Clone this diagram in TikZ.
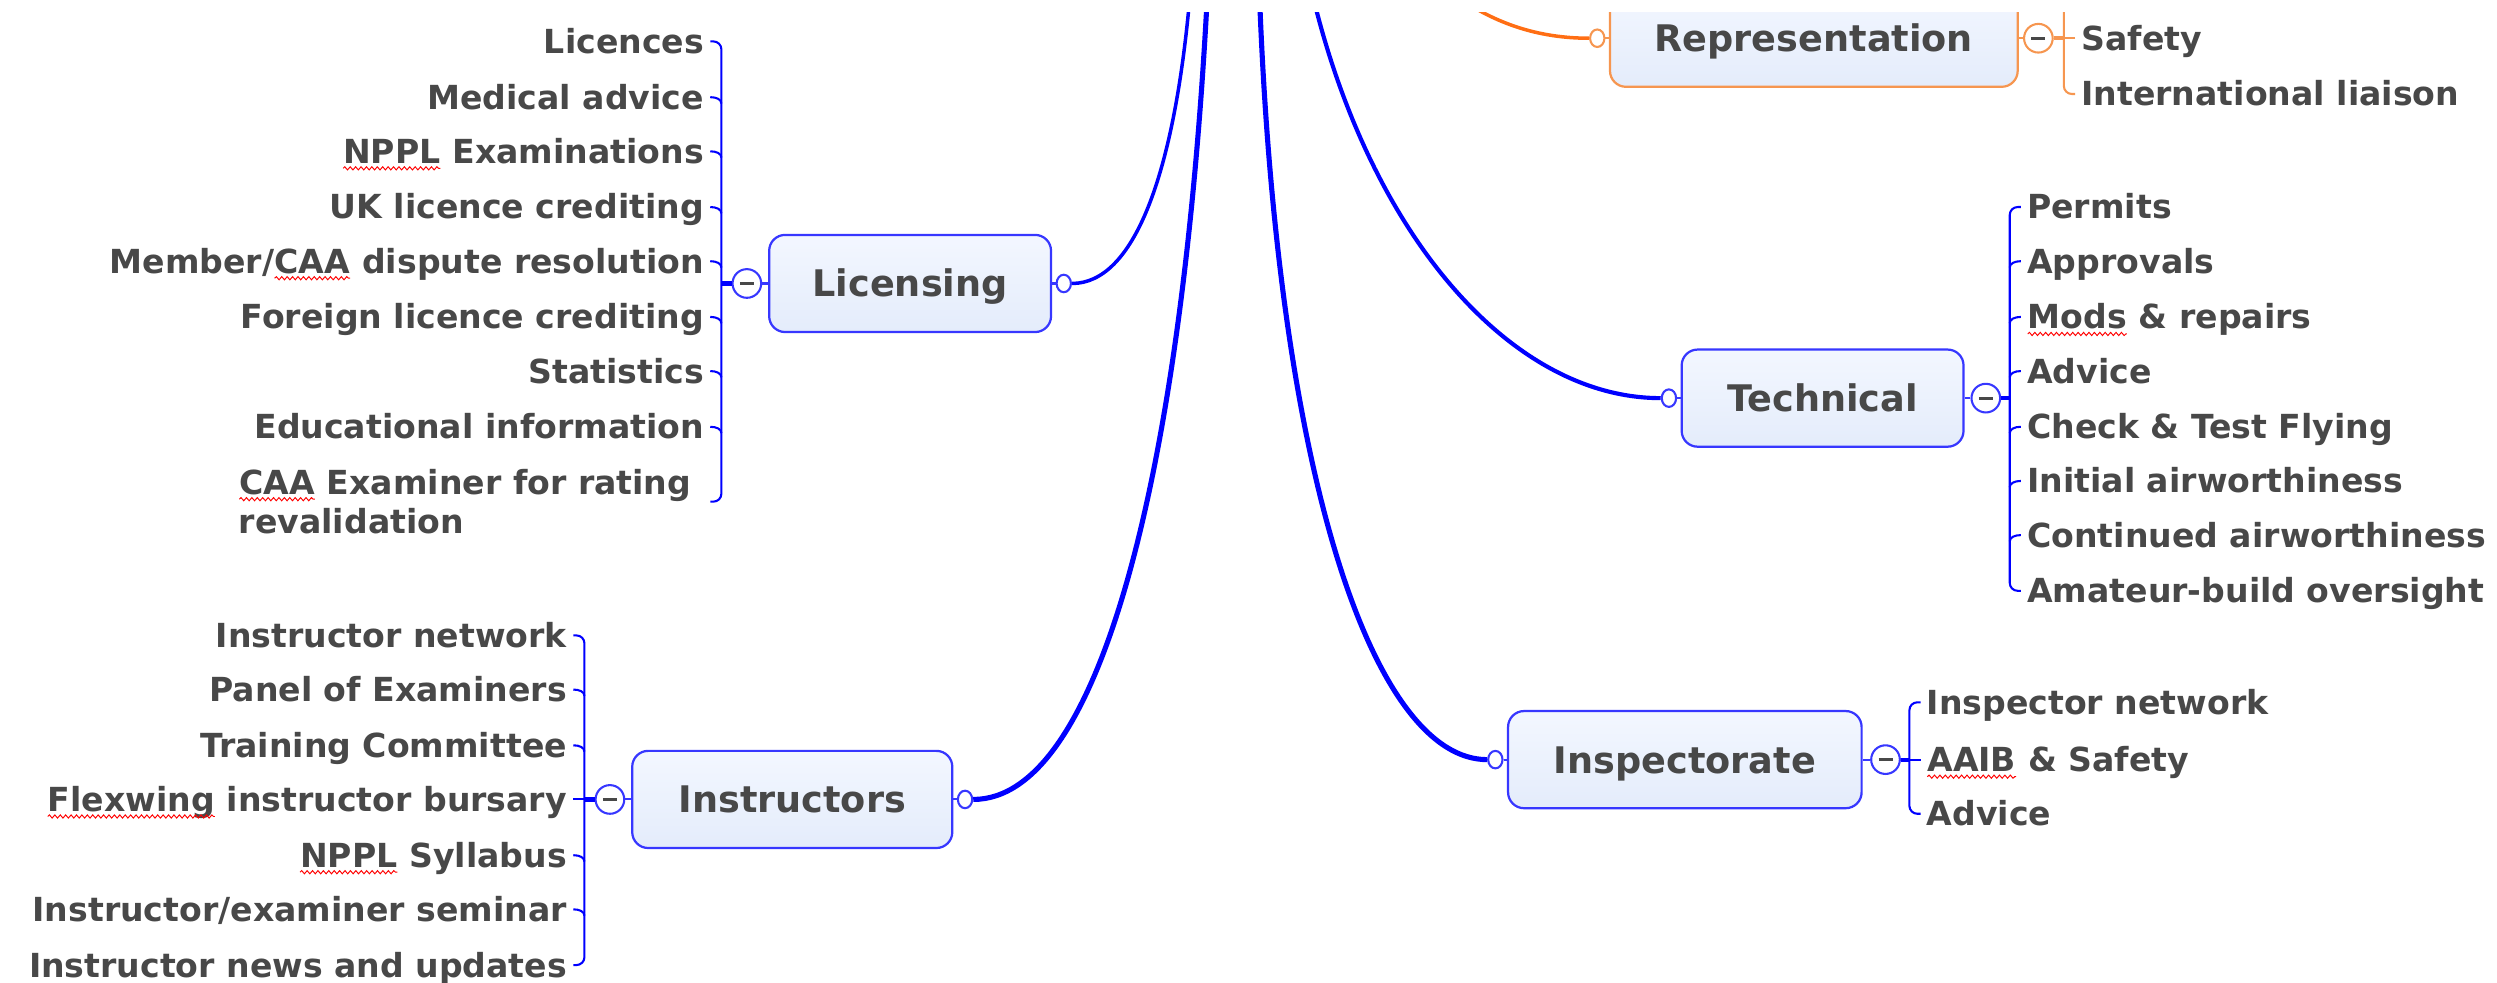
\documentclass[tikz,border=0pt]{standalone}
\usepackage{fontspec}
\setmainfont{DejaVu Sans}
\usetikzlibrary{shapes.geometric,decorations.pathmorphing}

\definecolor{mmblue}{RGB}{0,0,255}
\definecolor{boxblue}{RGB}{55,55,255}
\definecolor{mmorange}{RGB}{255,110,20}
\definecolor{boxorange}{RGB}{246,150,80}
\definecolor{mmtext}{RGB}{72,72,72}
\definecolor{filltop}{RGB}{243,247,255}
\definecolor{fillbot}{RGB}{228,236,251}

\newdimen\U \U=0.5pt
\newcommand\leaffont{\fontsize{10.4pt}{12.5pt}\selectfont\bfseries}
\newcommand\topicfont{\fontsize{11.5pt}{13.5pt}\selectfont\bfseries}

% red wavy spell-check underline under a word
\newcommand\spellmark[1]{\tikz[baseline=(sw.base)]{\node[inner sep=0pt,outer sep=0pt](sw){#1};%
  \draw[red,line width=0.3pt,decorate,decoration={snake,amplitude=0.5pt,segment length=1.7pt}]
    ([yshift=-1.6pt]sw.base west)--([yshift=-1.6pt]sw.base east);}}

% leaf to the left of its bracket: style, name, bracket x, row y, text
\newcommand\leftleaf[5]{%
  \node[leaf, anchor=base east] (#2) at (#3-11,#4+7.5) {#5};
  \draw[#1] ([shift={(4,-7.5)}]#2.base east) .. controls +(4,0) and +(0,-2.5) .. +(7,4);}
% leaf to the right of its bracket
\newcommand\rightleaf[5]{%
  \node[leaf, anchor=base west] (#2) at (#3+11,#4+7.5) {#5};
  \draw[#1] ([shift={(-4,-7.5)}]#2.base west) .. controls +(-4,0) and +(0,-2.5) .. +(-7,4);}
% leaf level with its collapse button: straight stub
\newcommand\leftleafflat[5]{%
  \node[leaf, anchor=base east] (#2) at (#3-11,#4+7.5) {#5};
  \draw[#1] ([shift={(4,-7.5)}]#2.base east) -- +(7,0);}
\newcommand\rightleafflat[5]{%
  \node[leaf, anchor=base west] (#2) at (#3+11,#4+7.5) {#5};
  \draw[#1] ([shift={(-4,-7.5)}]#2.base west) -- +(-7,0);}
% first and last leaves: the bracket's own curl reaches them
\newcommand\leftleafend[4]{%
  \node[leaf, anchor=base east] (#1) at (#2-11,#3+7.5) {#4};}
\newcommand\rightleafend[4]{%
  \node[leaf, anchor=base west] (#1) at (#2+11,#3+7.5) {#4};}

\tikzset{
  leaf/.style={inner sep=0pt, outer sep=0pt, text=mmtext, font=\leaffont},
  topic/.style={draw=boxblue, line width=1.4\U, rounded corners=10\U,
    top color=filltop, bottom color=fillbot, text=mmtext, font=\topicfont,
    minimum height=61\U, inner sep=0pt, text height=8.4pt, text depth=0pt},
  otopic/.style={topic, draw=boxorange},
  knob/.style={circle, draw=boxblue, fill=white, line width=1.3\U,
    minimum size=18\U, inner sep=0pt,
    path picture={\draw[mmtext, line width=1pt]
      ([xshift=-2.2pt]path picture bounding box.center) --
      ([xshift=2.2pt]path picture bounding box.center);}},
  oknob/.style={knob, draw=boxorange},
  port/.style={ellipse, draw=boxblue, fill=white, line width=1.3\U,
    minimum width=9\U, minimum height=11\U, inner sep=0pt},
  oport/.style={port, draw=boxorange},
  stub/.style={draw=boxblue, line width=1.3\U},
  ostub/.style={draw=boxorange, line width=1.3\U},
  bracket/.style={draw=mmblue, line width=1.3\U},
  obracket/.style={draw=boxorange, line width=1.3\U},
  joint/.style={draw=mmblue, line width=2.6\U},
  ojoint/.style={draw=boxorange, line width=2.2\U},
  trunk/.style={draw=mmblue},
}

\begin{document}
\begin{tikzpicture}[x=0.5pt,y=-0.5pt]
\useasboundingbox (0,0) rectangle (1568,617);
\begin{scope}
\clip (0,8) rectangle (1568,617);

% ---------- main topics ----------
\node[topic, minimum width=177\U] (lic) at (571.5,178) {Licensing};
\node[port] (licP) at (668,178) {};
\node[knob] (licK) at (469,178) {};

\node[topic, minimum width=201\U] (ins) at (497.5,502) {Instructors};
\node[port] (insP) at (606,502) {};
\node[knob] (insK) at (383,502) {};

\node[topic, minimum width=177\U] (tec) at (1144.5,250) {Technical};
\node[port] (tecP) at (1048,250) {};
\node[knob] (tecK) at (1247,250) {};

\node[topic, minimum width=222\U] (isp) at (1058,477) {Inspectorate};
\node[port] (ispP) at (939,477) {};
\node[knob] (ispK) at (1184,477) {};

\node[otopic, minimum width=256\U] (rep) at (1139,24) {Representation};
\node[oport] (repP) at (1003,24) {};
\node[oknob] (repK) at (1280,24) {};

\foreach \t in {lic,ins} {
  \draw[stub] (\t.east) -- (\t P.west);
  \draw[stub] (\t K.east) -- (\t.west);
}
\foreach \t in {tec,isp} {
  \draw[stub] (\t.west) -- (\t P.east);
  \draw[stub] (\t K.west) -- (\t.east);
}
\draw[ostub] (rep.west) -- (repP.east);
\draw[ostub] (repK.west) -- (rep.east);

% ---------- branches from the central topic ----------
\coordinate (hubA) at (747,0);
\coordinate (hubB) at (758,0);
\coordinate (hubC) at (791,0);
\coordinate (hubD) at (825,0);
\coordinate (hubR) at (918,0);
\draw[trunk, line width=2.2\U] (hubA) .. controls (737,110) and (712,178) .. (licP.east);
\draw[trunk, line width=3.2\U] (hubB) .. controls (742,300) and (690,502) .. (insP.east);
\draw[trunk, line width=3.2\U] (hubC) .. controls (803,310) and (865,477) .. (ispP.west);
\draw[trunk, line width=2.6\U] (hubD) .. controls (862,150) and (950,250) .. (tecP.west);
\draw[draw=mmorange, line width=2.2\U] (hubR) .. controls (945,18) and (972,24) .. (repP.west);

% ---------- Licensing subtopics ----------
\coordinate (licJ) at (453,178);
\draw[joint] (licK.west) -- (licJ);
\draw[bracket, rounded corners=5\U] (446,26) -- (453,26) -- (453,315) -- (446,315);
\leftleafend{lic1}{453}{26}{Licences}
\leftleaf{bracket}{lic2}{453}{61}{Medical advice}
\leftleaf{bracket}{lic3}{453}{95}{\spellmark{NPPL} Examinations}
\leftleaf{bracket}{lic4}{453}{130}{UK licence crediting}
\leftleaf{bracket}{lic5}{453}{164}{Member/\spellmark{CAA} dispute resolution}
\leftleaf{bracket}{lic6}{453}{199}{Foreign licence crediting}
\leftleaf{bracket}{lic7}{453}{233}{Statistics}
\leftleaf{bracket}{lic8}{453}{268}{Educational information}
\node[leaf, align=left, anchor=west] (lic9) at (150,315)
  {\spellmark{CAA} Examiner for rating\\revalidation};

% ---------- Instructors subtopics ----------
\coordinate (insJ) at (367,502);
\draw[joint] (insK.west) -- (insJ);
\draw[bracket, rounded corners=5\U] (360,399) -- (367,399) -- (367,606) -- (360,606);
\leftleafend{ins1}{367}{399}{Instructor network}
\leftleaf{bracket}{ins2}{367}{433}{Panel of Examiners}
\leftleaf{bracket}{ins3}{367}{468}{Training Committee}
\leftleafflat{bracket}{ins4}{367}{502}{\spellmark{Flexwing} instructor bursary}
\leftleaf{bracket}{ins5}{367}{537}{\spellmark{NPPL} Syllabus}
\leftleaf{bracket}{ins6}{367}{571}{Instructor/examiner seminar}
\leftleafend{ins7}{367}{606}{Instructor news and updates}

% ---------- Technical subtopics ----------
\coordinate (tecJ) at (1262,250);
\draw[joint] (tecK.east) -- (tecJ);
\draw[bracket, rounded corners=5\U] (1269,130) -- (1262,130) -- (1262,371) -- (1269,371);
\rightleafend{tec1}{1262}{130}{Permits}
\rightleaf{bracket}{tec2}{1262}{164}{Approvals}
\rightleaf{bracket}{tec3}{1262}{199}{\spellmark{Mods} \& repairs}
\rightleaf{bracket}{tec4}{1262}{233}{Advice}
\rightleaf{bracket}{tec5}{1262}{268}{Check \& Test Flying}
\rightleaf{bracket}{tec6}{1262}{302}{Initial airworthiness}
\rightleaf{bracket}{tec7}{1262}{336}{Continued airworthiness}
\rightleafend{tec8}{1262}{371}{Amateur-build oversight}

% ---------- Inspectorate subtopics ----------
\coordinate (ispJ) at (1199,477);
\draw[joint] (ispK.east) -- (ispJ);
\draw[bracket, rounded corners=5\U] (1206,441) -- (1199,441) -- (1199,511) -- (1206,511);
\rightleafend{isp1}{1199}{441}{Inspector network}
\rightleafflat{bracket}{isp2}{1199}{477}{\spellmark{AAIB} \& Safety}
\rightleafend{isp3}{1199}{511}{Advice}

% ---------- Representation subtopics ----------
\coordinate (repJ) at (1296,24);
\draw[ojoint] (repK.east) -- (repJ);
\draw[obracket, rounded corners=5\U] (1296,-30) -- (1296,59) -- (1303,59);
\rightleafflat{obracket}{rep1}{1296}{24}{Safety}
\rightleafend{rep2}{1296}{59}{International liaison}

\end{scope}
\end{tikzpicture}
\end{document}
